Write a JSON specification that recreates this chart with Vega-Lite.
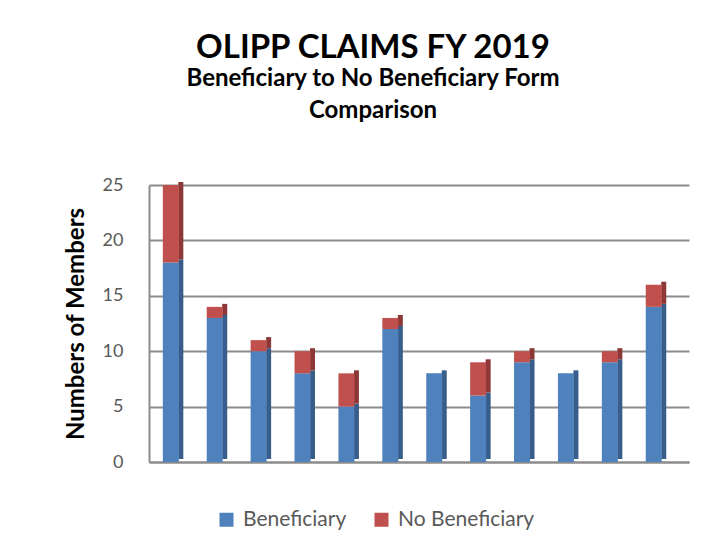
{
  "$schema": "https://vega.github.io/schema/vega-lite/v6.json",
  "width": 540,
  "height": 277,
  "padding": {"left": 64, "top": 32, "right": 20, "bottom": 10},
  "background": "white",
  "title": {
    "text": "OLIPP CLAIMS FY 2019",
    "subtitle": ["Beneficiary to No Beneficiary Form", "Comparison"],
    "font": "Lato",
    "fontSize": 33,
    "fontWeight": "bold",
    "color": "#000000",
    "subtitleFont": "Lato",
    "subtitleFontSize": 24,
    "subtitleFontWeight": "bold",
    "subtitleColor": "#000000",
    "subtitleLineHeight": 32,
    "subtitlePadding": 2,
    "anchor": "middle",
    "frame": "group",
    "dx": -46,
    "offset": 53
  },
  "data": {
    "values": [
      {"m": 1, "type": "Beneficiary", "count": 18},
      {"m": 1, "type": "No Beneficiary", "count": 7},
      {"m": 2, "type": "Beneficiary", "count": 13},
      {"m": 2, "type": "No Beneficiary", "count": 1},
      {"m": 3, "type": "Beneficiary", "count": 10},
      {"m": 3, "type": "No Beneficiary", "count": 1},
      {"m": 4, "type": "Beneficiary", "count": 8},
      {"m": 4, "type": "No Beneficiary", "count": 2},
      {"m": 5, "type": "Beneficiary", "count": 5},
      {"m": 5, "type": "No Beneficiary", "count": 3},
      {"m": 6, "type": "Beneficiary", "count": 12},
      {"m": 6, "type": "No Beneficiary", "count": 1},
      {"m": 7, "type": "Beneficiary", "count": 8},
      {"m": 7, "type": "No Beneficiary", "count": 0},
      {"m": 8, "type": "Beneficiary", "count": 6},
      {"m": 8, "type": "No Beneficiary", "count": 3},
      {"m": 9, "type": "Beneficiary", "count": 9},
      {"m": 9, "type": "No Beneficiary", "count": 1},
      {"m": 10, "type": "Beneficiary", "count": 8},
      {"m": 10, "type": "No Beneficiary", "count": 0},
      {"m": 11, "type": "Beneficiary", "count": 9},
      {"m": 11, "type": "No Beneficiary", "count": 1},
      {"m": 12, "type": "Beneficiary", "count": 14},
      {"m": 12, "type": "No Beneficiary", "count": 2}
    ]
  },
  "encoding": {
    "x": {
      "field": "m",
      "type": "ordinal",
      "scale": {"paddingInner": 0.6, "paddingOuter": 0.45, "align": 0.33},
      "axis": {"labels": false, "ticks": false, "title": null, "domainColor": "#8c8c8c", "domainWidth": 2}
    },
    "y": {
      "field": "count",
      "type": "quantitative",
      "aggregate": "sum",
      "stack": "zero",
      "scale": {"domain": [0, 25]},
      "axis": {
        "values": [0, 5, 10, 15, 20, 25],
        "title": "Numbers of Members",
        "titleFont": "Lato",
        "titleFontSize": 24,
        "titleFontWeight": "bold",
        "titleColor": "#000000",
        "titlePadding": 14,
        "labelFont": "Lato",
        "labelFontSize": 18,
        "labelColor": "#595959",
        "labelPadding": 26,
        "ticks": false,
        "domainColor": "#8c8c8c",
        "domainWidth": 2,
        "gridColor": "#8c8c8c",
        "gridWidth": 2
      }
    },
    "order": {"field": "type", "sort": "ascending"}
  },
  "layer": [
    {
      "mark": {"type": "bar", "width": 5, "xOffset": 10, "yOffset": -3},
      "encoding": {
        "color": {
          "field": "type",
          "type": "nominal",
          "scale": {"domain": ["Beneficiary", "No Beneficiary"], "range": ["#385D8A", "#8C3836"]},
          "legend": null
        }
      }
    },
    {
      "mark": {"type": "bar", "width": 16},
      "encoding": {
        "color": {
          "field": "type",
          "type": "nominal",
          "scale": {"domain": ["Beneficiary", "No Beneficiary"], "range": ["#4F81BD", "#C0504D"]},
          "legend": {
            "title": null,
            "orient": "none",
            "direction": "horizontal",
            "legendX": 67,
            "legendY": 324,
            "symbolType": "square",
            "symbolSize": 196,
            "symbolStrokeWidth": 0,
            "symbolOpacity": 1,
            "labelFont": "Lato",
            "labelFontSize": 21,
            "labelColor": "#595959",
            "columnPadding": 24,
            "labelOffset": 6
          }
        }
      }
    }
  ],
  "resolve": {"scale": {"color": "independent"}},
  "config": {"view": {"stroke": null}}
}
